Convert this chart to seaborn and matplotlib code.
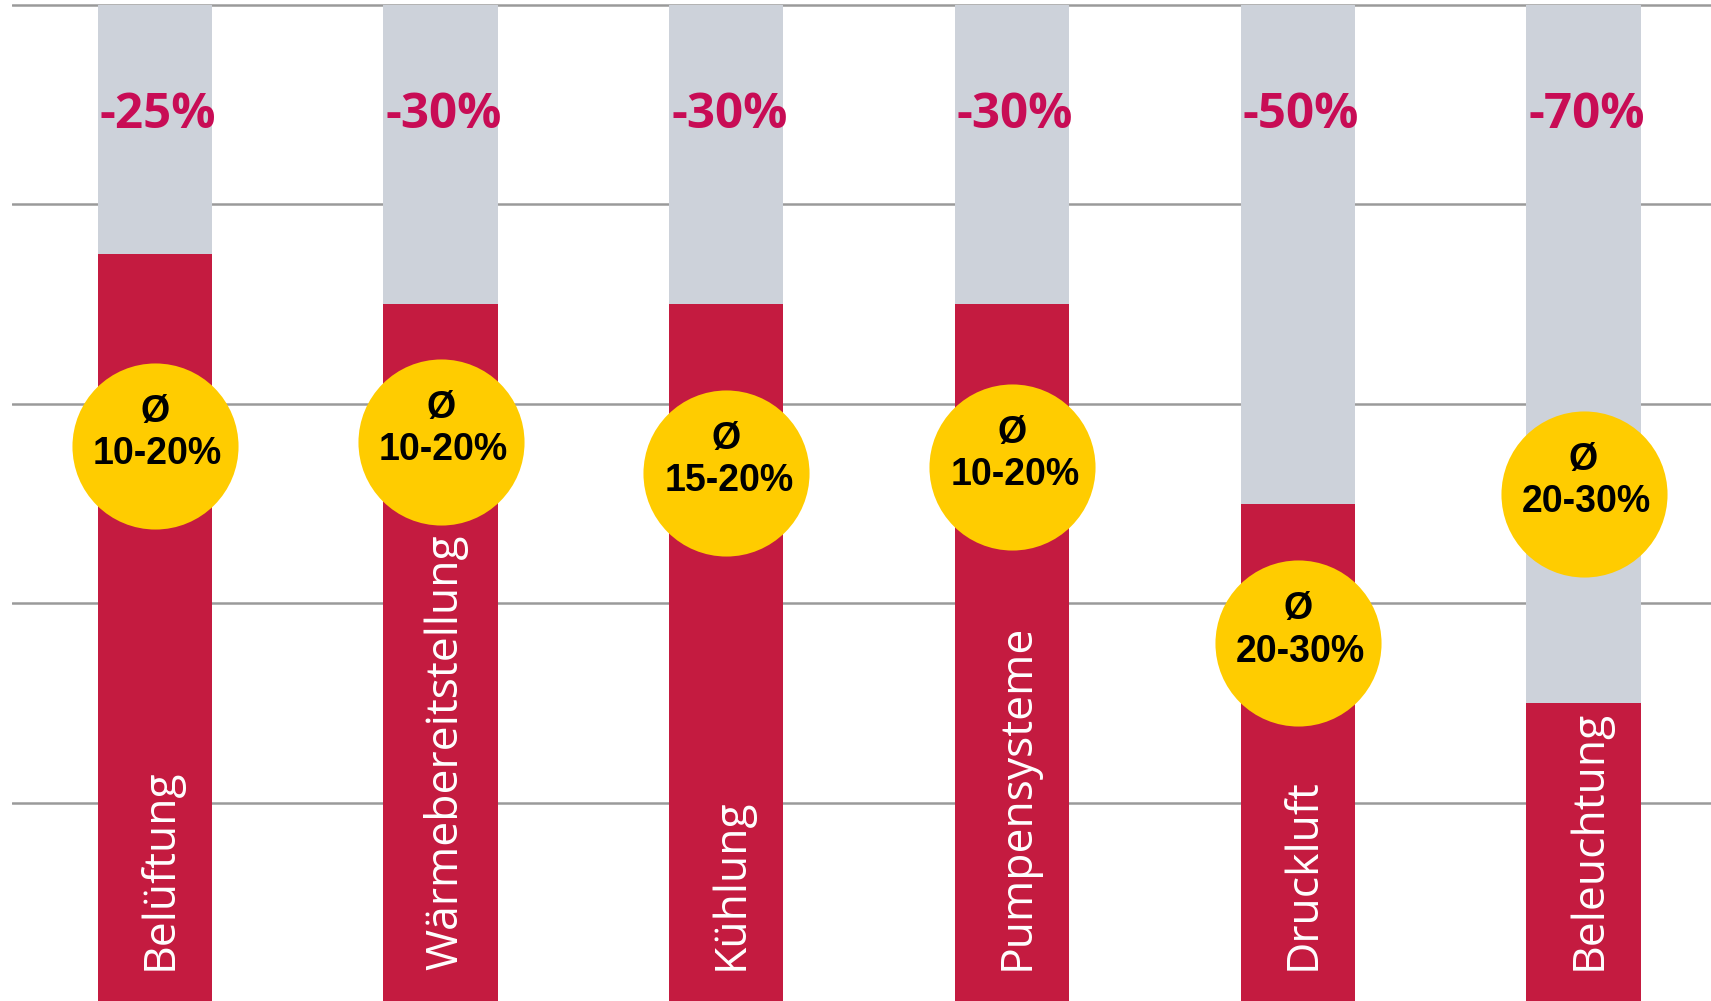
import numpy as np
import pandas as pd
import seaborn as sns
import matplotlib.pyplot as plt

# Daten
kategorien = ["Belüftung", "Wärmebereitstellung", "Kühlung", "Pumpensysteme", "Druckluft", "Beleuchtung"]
einsparung_max = [25, 30, 30, 30, 50, 70]          # grauer Anteil oben
durchschnitt = ["10-20%", "10-20%", "15-20%", "10-20%", "20-30%", "20-30%"]
kreis_y = [55.8, 56.2, 53.1, 53.7, 36.0, 51.0]     # Lage der gelben Kreise

rot = "#C41B40"
grau = "#CDD2DA"
gelb = "#FFCC00"
pink = "#C80C55"

df = pd.DataFrame({"kategorie": kategorien,
                   "gesamt": [100] * len(kategorien),
                   "rest": [100 - v for v in einsparung_max]})

sns.set_style("white")
fig = plt.figure(figsize=(17.11, 10.01), dpi=100)
ax = fig.add_axes([12 / 1711, 0, 1 - 12 / 1711, 1])

sns.barplot(data=df, x="kategorie", y="gesamt", color=grau, width=0.4,
            saturation=1, linewidth=0, ax=ax, zorder=2)
sns.barplot(data=df, x="kategorie", y="rest", color=rot, width=0.4,
            saturation=1, linewidth=0, ax=ax, zorder=2)

pos = np.arange(len(kategorien))
sns.scatterplot(x=pos, y=kreis_y, s=14300, color=gelb, linewidth=0,
                ax=ax, zorder=3, legend=False)

for i, kat in enumerate(kategorien):
    ax.text(i + 0.01, 87.7, f"-{einsparung_max[i]}%", color=pink, fontsize=35.5,
            fontweight="bold", family="Open Sans", ha="center", va="baseline", zorder=4)
    ax.text(i + 0.058, 3.3, kat, color="white", fontsize=32, family="Open Sans",
            rotation=90, rotation_mode="anchor", ha="left", va="baseline", zorder=4)
    ax.text(i, kreis_y[i] + 2.4, "Ø", fontsize=27, fontweight="bold", color="black",
            family="Liberation Sans", ha="center", va="baseline", zorder=4)
    ax.text(i + 0.01, kreis_y[i] - 1.85, durchschnitt[i], fontsize=27, fontweight="bold",
            color="black", family="Liberation Sans", ha="center", va="baseline", zorder=4)

ax.set_xlim(-0.5, 5.446)
ax.set_ylim(0.15, 100.5)
ax.set_yticks([20, 40, 60, 80, 100])
ax.yaxis.grid(True, color="#9a9a9a", linewidth=1.8)
ax.set_axisbelow(True)
ax.set_xticks([])
ax.set_yticklabels([])
ax.tick_params(left=False, bottom=False)
ax.set_xlabel("")
ax.set_ylabel("")
for s in ax.spines.values():
    s.set_visible(False)

fig.savefig("out.png", dpi=100)
